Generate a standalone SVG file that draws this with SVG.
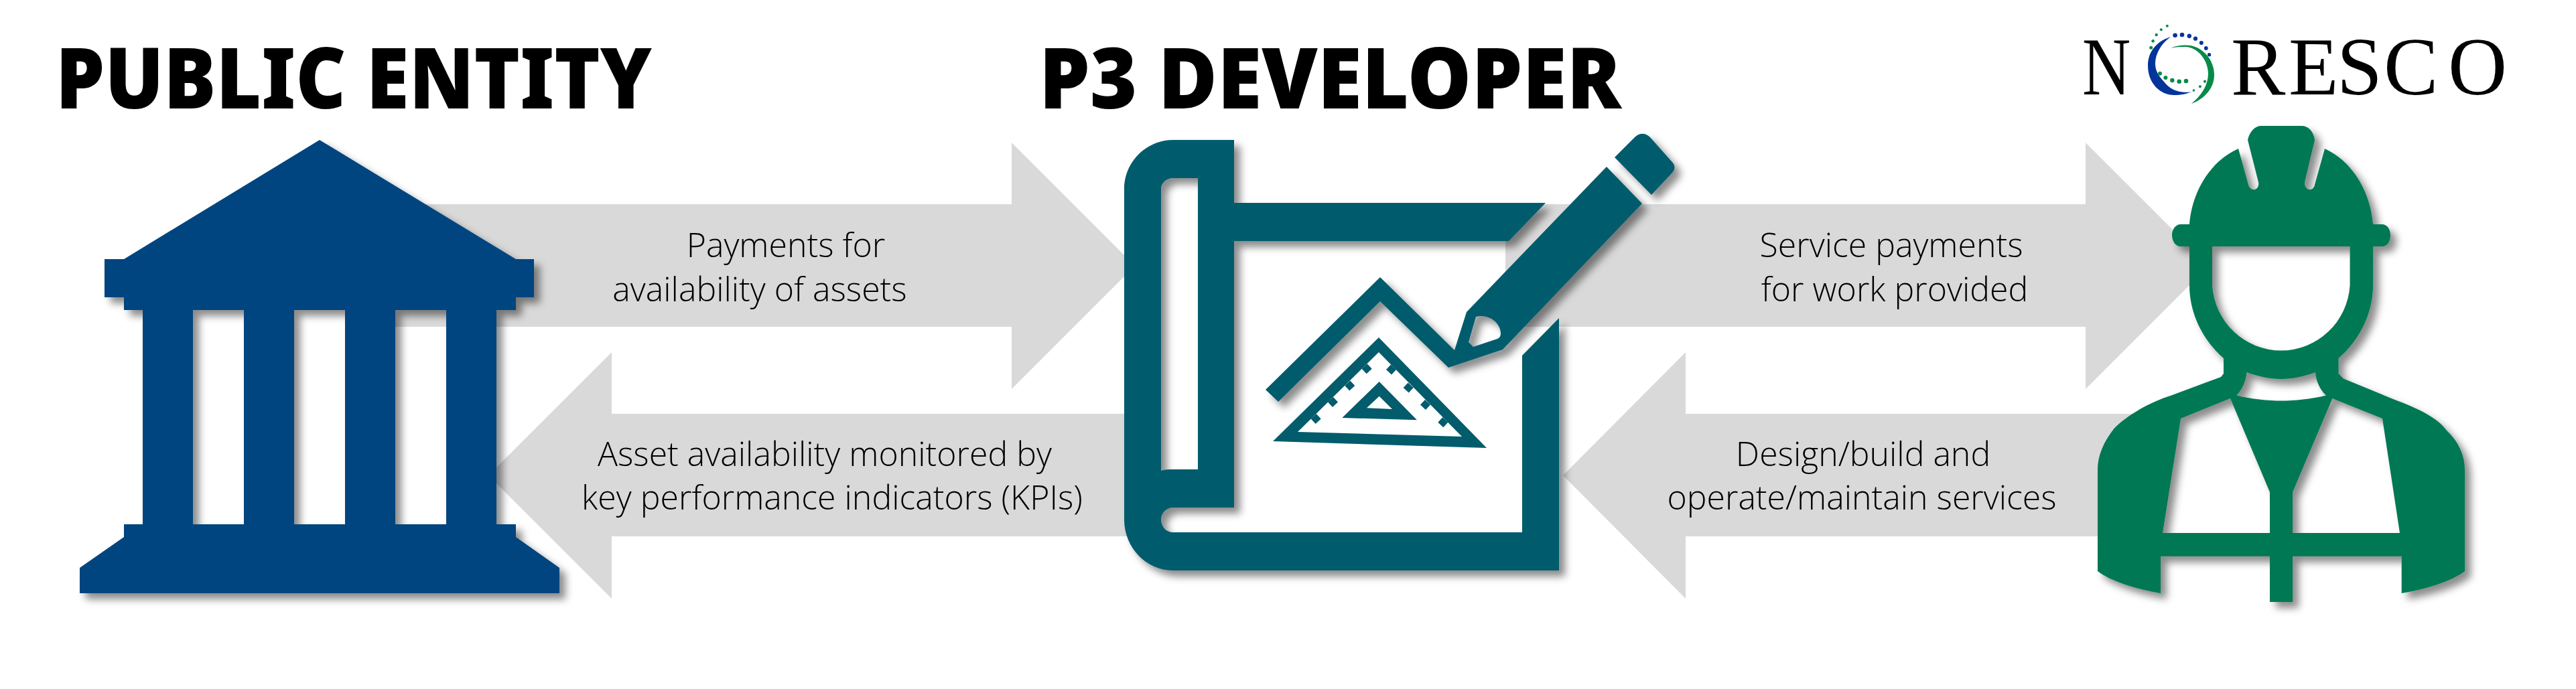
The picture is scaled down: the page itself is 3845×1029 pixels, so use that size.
<svg xmlns="http://www.w3.org/2000/svg" width="3845" height="1029" viewBox="0 0 3845 1029">
<style>
.title{font-family:"Noto Sans","Open Sans","Liberation Sans",sans-serif;font-weight:900;font-size:126px;fill:#000}
.lbl{font-family:"Open Sans","Noto Sans","Liberation Sans",sans-serif;font-weight:300;font-size:50px;fill:#000;text-anchor:middle}
.logo{font-family:"Liberation Serif",serif;font-size:122px;fill:#000}
.arrow{fill:#d9d9d9}
.bank{fill:#03457f;fill-rule:evenodd;filter:url(#sh)}
.teal{fill:#025c6c;fill-rule:evenodd}
.green{fill:#047852;fill-rule:evenodd;filter:url(#sh)}
.tick{stroke:#025c6c;stroke-width:11;fill:none}
</style>
<defs>
<filter id="sh" x="-10%" y="-10%" width="125%" height="125%"><feDropShadow dx="9" dy="9" stdDeviation="6" flood-color="#000" flood-opacity="0.45"/></filter>
</defs>
<rect width="3845" height="1029" fill="#fff"/>
<g id="connectors">
<polygon class="arrow" points="590,305 1510,305 1510,213 1694,397 1510,581 1510,488 590,488"/>
<polygon class="arrow" points="1700,618 913,618 913,526 729,710 913,894 913,801 1700,801"/>
<polygon class="arrow" points="2247,305 3113,305 3113,213 3297,397 3113,581 3113,488 2247,488"/>
<polygon class="arrow" points="3200,618 2516,618 2516,526 2333,710 2516,894 2516,801 3200,801"/>
<text class="lbl" x="1173" y="384">Payments for</text>
<text class="lbl" x="1134" y="449.5">availability of assets</text>
<text class="lbl" x="1231" y="695.5">Asset availability monitored by</text>
<text class="lbl" x="1242" y="761">key performance indicators (KPIs)</text>
<text class="lbl" x="2823" y="384">Service payments</text>
<text class="lbl" x="2828" y="449.5">for work provided</text>
<text class="lbl" x="2781" y="695.5">Design/build and</text>
<text class="lbl" x="2779" y="761">operate/maintain services</text>
</g>
<g id="public-entity">
<text class="title" x="83" y="162" textLength="890" lengthAdjust="spacingAndGlyphs">PUBLIC ENTITY</text>
<path class="bank" d="M477,209L770,387H797V444H770V463H741V783H770V802L835,848V886H119V848L185,802V783H213V463H185V444H156V387H185ZM288,463V783H364V463ZM439,463V783H515V463ZM590,463V783H666V463Z"/>
</g>
<g id="p3-developer">
<text class="title" x="1551" y="162" textLength="869" lengthAdjust="spacingAndGlyphs">P3 DEVELOPER</text>
<g filter="url(#sh)">
<path class="teal" d="M1751,209H1842V303H2307L2252,360H1842V758H1751C1741,758 1733,766 1733,776C1733,787 1741,795 1751,795H2272V531L2327,475V852H1751C1711,852 1678,818 1678,776V282C1678,242 1711,209 1751,209ZM1751,266C1741,266 1733,273 1733,282V703C1739,701 1745,701 1751,701H1788V266Z"/>
<path class="teal" d="M2410,235L2440,205C2447,198 2456,198 2463,205L2495,241C2501,247 2501,253 2495,259L2465,291Z"/>
<path class="teal" d="M2189,466L2398,249L2451,304L2243,522L2162,549L2060,450L1908,600L1889,582L2060,414L2171,523ZM2203,473C2222,468 2240,482 2240,498C2240,502 2238,505 2235,506L2199,518L2192,511Z"/>
</g>
<path class="teal" d="M2058,504L2219,669L1900,659ZM2058,526L1937,645L2182,652Z"/>
<path class="teal" d="M2058.7,570L2115,627.3L2003.3,624ZM2058.7,591.7L2040,609.3L2078,611Z"/>
<path class="tick" d="M2036.7,547l7,7.5M2011.3,572.3l7,7.5M1986,596.7l7,7.5M1960.7,621.7l7,7.5M2080,548.3l-7,7.5M2105.7,575.3l-7,7.5M2131,600.7l-7,7.5M2157.3,627l-7,7.5"/>
</g>
<g id="noresco">
<text class="logo" transform="translate(3108,141) scale(.82,1)">N</text>
<text class="logo" x="3330 3416 3488 3558 3654" y="141">RESCO</text>
<path fill="#03349a" d="M3240,55C3218,62 3206,78 3206,98C3206,125 3225,142 3245,142C3255,142 3265,140 3271,137C3255,140 3240,135 3230,122C3221,112 3217,105 3217,95C3217,80 3226,65 3240,55Z"/>
<path fill="#058a48" d="M3240,72C3250,67 3262,67 3270,68C3292,73 3305,92 3305,112C3305,132 3290,148 3271,155C3285,143 3296,128 3296,110C3296,90 3280,70 3262,70C3255,70 3247,70 3240,72Z"/>
<g fill="#03349a"><circle cx="3246.6" cy="52.7" r="3.3"/><circle cx="3257" cy="52" r="3.3"/><circle cx="3267.8" cy="53.7" r="3.2"/><circle cx="3277" cy="57.7" r="3.1"/><circle cx="3285.8" cy="64" r="3"/><circle cx="3292.8" cy="72" r="2.9"/><circle cx="3297.6" cy="81.7" r="2.6"/></g>
<g fill="#058a48"><circle cx="3234.8" cy="38.7" r="2"/><circle cx="3225.8" cy="44.3" r="2"/><circle cx="3218.7" cy="52" r="2.2"/><circle cx="3213.6" cy="61.3" r="2.3"/><circle cx="3210.7" cy="71.3" r="2.5"/><circle cx="3224" cy="109.7" r="3"/><circle cx="3232.4" cy="116" r="3"/><circle cx="3242.3" cy="120" r="3.2"/><circle cx="3252.7" cy="121.7" r="3.3"/><circle cx="3263" cy="121" r="3.3"/><circle cx="3291" cy="121.7" r="2.1"/><circle cx="3283.9" cy="129.3" r="2"/><circle cx="3274.4" cy="135" r="1.8"/></g>
</g>
<g id="contractor">
<path class="green" d="M3355,209C3358,196 3366,188 3375,188H3435C3446,188 3453,196 3455,209L3440,272C3439,285 3453,287 3455,276L3470,222C3510,240 3538,285 3542,335H3555C3564,335 3568,343 3568,351C3568,360 3564,368 3555,368H3542V426C3542,470 3520,510 3490.5,535V558L3498,565.6L3572,596C3610,610 3640,625 3652,643C3670,660 3679,680 3679,702V853C3660,868 3620,880 3584.7,886V830.7H3422V899H3388V830.7H3225V886C3190,880 3150,868 3131,853V702C3131,680 3140,660 3155.5,640C3175,620 3210,600 3241,590.5L3315,563L3319,558V535C3290,510 3268,470 3268,426V368H3255C3247,368 3242,360 3242,351C3242,343 3247,335 3255,335H3268C3272,285 3300,240 3341,222L3356,276C3359,287 3373,285 3371,272ZM3302,368V426A103,104 0 0 0 3507.6,426V368ZM3353.5,556C3352,570 3347,582 3338,590.5C3360,596 3385,598.5 3405,598.5C3425,598.5 3450,596 3472,590.5C3463,582 3457,570 3456,556C3440,562 3422,566 3405,566C3388,566 3370,562 3353.5,556ZM3255,625L3329,595L3388,735V796H3228ZM3556,625L3481.4,595L3422,735V796H3582Z"/>
</g>
</svg>
